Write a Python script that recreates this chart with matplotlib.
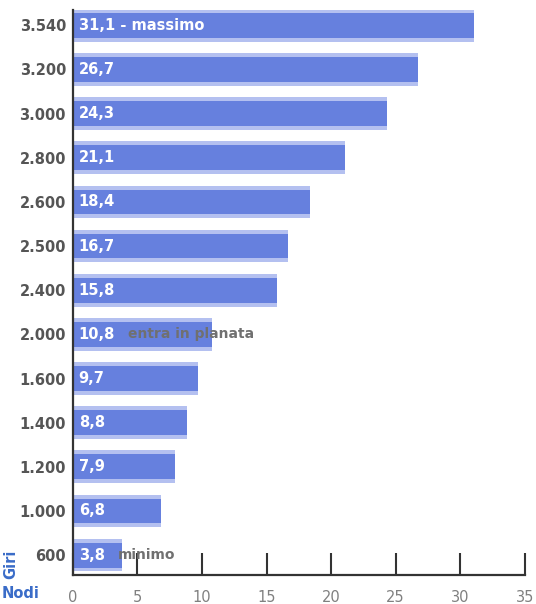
import matplotlib.pyplot as plt

plt.rcParams['font.family'] = ['DejaVu Sans']

giri = ['3.540', '3.200', '3.000', '2.800', '2.600', '2.500', '2.400',
        '2.000', '1.600', '1.400', '1.200', '1.000', '600']
nodi = [31.1, 26.7, 24.3, 21.1, 18.4, 16.7, 15.8, 10.8, 9.7, 8.8, 7.9, 6.8, 3.8]
note_bianche = {0: ' - massimo'}
note_grigie = {7: 'entra in planata', 12: 'minimo'}

fig = plt.figure(figsize=(5.36, 6.04), dpi=100)
ax = fig.add_axes([0.136, 0.048, 0.843, 0.935])

pos = list(range(len(giri)))
# barra "sfumata": alone chiaro sotto, blu pieno sopra
ax.barh(pos, nodi, height=0.74, color='#b4c0f0', zorder=1)
ax.barh(pos, nodi, height=0.56, color='#6680de', zorder=2)

for i, v in enumerate(nodi):
    testo = '{:.1f}'.format(v).replace('.', ',') + note_bianche.get(i, '')
    ax.text(0.45, i, testo, color='white', fontsize=10.5, fontweight='bold',
            va='center', ha='left', zorder=3)
    if i in note_grigie:
        x0 = 4.3 if i == 7 else 3.5
        ax.text(x0, i, note_grigie[i], color='#707070', fontsize=10,
                fontweight='bold', va='center', ha='left', zorder=3)

ax.set_ylim(12.45, -0.34)
ax.set_yticks(pos)
ax.set_yticklabels(giri, color='#555555', fontsize=10.5, fontweight='bold')
ax.tick_params(axis='y', length=0, pad=5)

ax.set_xlim(0, 35)
ax.set_xticks(range(0, 36, 5))
ax.tick_params(axis='x', direction='in', length=16, width=1.5, color='#333333',
               labelcolor='#808080', labelsize=10.5, pad=11)

for s in ['top', 'right']:
    ax.spines[s].set_visible(False)
for s in ['left', 'bottom']:
    ax.spines[s].set_linewidth(1.6)
    ax.spines[s].set_color('#333333')

fig.text(0.038, 0.018, 'Nodi', color='#3a6cc8', fontsize=10.5,
         fontweight='bold', ha='center', va='center')
fig.text(0.02, 0.065, 'Giri', color='#3a6cc8', fontsize=10.5,
         fontweight='bold', ha='center', va='center', rotation=90)

fig.savefig('out.png', dpi=100)
